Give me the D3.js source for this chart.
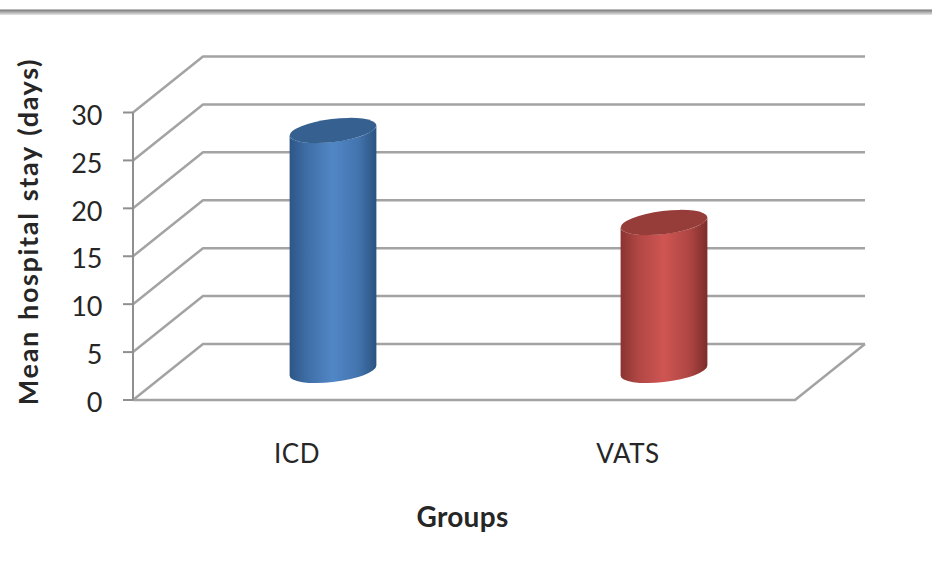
<!DOCTYPE html>
<html>
<head>
<meta charset="utf-8">
<script src="https://cdn.jsdelivr.net/npm/d3@7"></script>
<style>
  html, body { margin: 0; padding: 0; background: #fff; }
  svg { display: block; }
  text { font-family: Lato, "Open Sans", sans-serif; fill: #262626; }
</style>
</head>
<body>
<svg id="chart" width="932" height="576"></svg>
<script>
const categories = ["ICD", "VATS"];
const values = [25.2, 15.6];
const yTicks = [0, 5, 10, 15, 20, 25, 30];
const yTitle = "Mean hospital stay (days)";
const xTitle = "Groups";

const svg = d3.select("#chart");
const defs = svg.append("defs");

// Plot frame: front plane, with the depth offset that gives the back wall
const frontLeft = 133, frontRight = 795, frontBase = 400, frontTop = 112.5;
const depthX = 70, depthY = -56;

const y = d3.scaleLinear().domain([0, 30]).range([frontBase, frontTop]);
const x = d3.scaleBand().domain(categories).range([frontLeft, frontRight]);

// Header rule fading downwards
const rule = defs.append("linearGradient").attr("id", "rule")
  .attr("x1", 0).attr("y1", 0).attr("x2", 0).attr("y2", 1);
rule.append("stop").attr("offset", 0).attr("stop-color", "#757575");
rule.append("stop").attr("offset", 1).attr("stop-color", "#e6e6e6");
svg.append("rect").attr("x", 0).attr("y", 9.5).attr("width", 932).attr("height", 5.5)
  .attr("fill", "url(#rule)");

// Walls and floor
const gridColor = "#a3a3a3";
const grid = svg.append("g").attr("fill", "none").attr("stroke", gridColor)
  .attr("stroke-width", 2.5).attr("stroke-linejoin", "round");

grid.selectAll("path.wall").data(yTicks).join("path")
  .attr("class", "wall")
  .attr("d", t => {
    const p = d3.path();
    p.moveTo(frontLeft, y(t));
    p.lineTo(frontLeft + depthX, y(t) + depthY);
    p.lineTo(frontRight + depthX, y(t) + depthY);
    return p.toString();
  });

const floor = d3.path();
floor.moveTo(frontLeft, y(0));
floor.lineTo(frontRight, y(0));
floor.lineTo(frontRight + depthX, y(0) + depthY);
grid.append("path").attr("d", floor.toString());

// Value axis with outward ticks
const axis = svg.append("g").attr("fill", "none").attr("stroke", "#8f8f8f").attr("stroke-width", 2);
axis.append("line").attr("x1", frontLeft).attr("x2", frontLeft).attr("y1", y(30)).attr("y2", y(0));
axis.selectAll("line.tick").data(yTicks).join("line")
  .attr("class", "tick")
  .attr("x1", frontLeft - 10).attr("x2", frontLeft)
  .attr("y1", d => y(d)).attr("y2", d => y(d));

svg.append("g").selectAll("text").data(yTicks).join("text")
  .attr("x", 102.5).attr("y", d => y(d) + 2.5).attr("dy", "0.36em")
  .attr("text-anchor", "end").attr("font-size", 27)
  .text(d => d);

// Cylinders stand at mid depth, tilted by the chart's perspective
const capA = 43.7, capB = 11.5, tilt = 7.1 * Math.PI / 180;
const sideX = Math.sqrt(capA * capA * Math.cos(tilt) ** 2 + capB * capB * Math.sin(tilt) ** 2);
const sideY = (capA * capA - capB * capB) * Math.sin(tilt) * Math.cos(tilt) / sideX;
const tiltDeg = -7.1;
const midDepthX = depthX / 2, midDepthY = depthY / 2;

const palettes = [
  { id: "bodyBlue", top: "#35608f", stops: ["#2d5686", "#3f6ea6", "#5187c6", "#4273ad", "#2b5380"] },
  { id: "bodyRed", top: "#963c39", stops: ["#8a3331", "#b04744", "#cf5552", "#ad4542", "#7c2d2b"] }
];
palettes.forEach(p => {
  const g = defs.append("linearGradient").attr("id", p.id)
    .attr("x1", 0).attr("y1", 0).attr("x2", 1).attr("y2", 0);
  [0, 0.2, 0.5, 0.8, 1].forEach((o, i) =>
    g.append("stop").attr("offset", o).attr("stop-color", p.stops[i]));
});

const bars = svg.append("g").selectAll("g").data(categories).join("g");
bars.each(function (cat, i) {
  const g = d3.select(this);
  const cx = x(cat) + x.bandwidth() / 2 + midDepthX - 0.5;
  const yBase = y(0) + midDepthY - 1.5;
  const yTop = y(values[i]) + midDepthY;
  const lx = cx - sideX, rx = cx + sideX;
  const arc = `A${capA},${capB} ${tiltDeg} 0 `;
  g.append("path")
    .attr("fill", `url(#${palettes[i].id})`)
    .attr("d", `M${lx},${yTop + sideY} L${lx},${yBase + sideY} ${arc}0 ${rx},${yBase - sideY} L${rx},${yTop - sideY} ${arc}1 ${lx},${yTop + sideY} Z`);
  g.append("ellipse")
    .attr("cx", 0).attr("cy", 0).attr("rx", capA).attr("ry", capB)
    .attr("transform", `translate(${cx},${yTop}) rotate(${tiltDeg})`)
    .attr("fill", palettes[i].top);
});

// Category labels and axis titles
svg.append("g").selectAll("text").data(categories).join("text")
  .attr("x", d => x(d) + x.bandwidth() / 2 - 1.5)
  .attr("y", 463).attr("text-anchor", "middle").attr("font-size", 26)
  .attr("letter-spacing", 0.5)
  .text(d => d);

svg.append("text").attr("x", 462.5).attr("y", 527).attr("text-anchor", "middle")
  .attr("font-size", 28).attr("font-weight", 700).attr("letter-spacing", 0.3).text(xTitle);

svg.append("text").attr("transform", "translate(38,231.5) rotate(-90)")
  .attr("text-anchor", "middle").attr("font-size", 27).attr("font-weight", 700)
  .attr("letter-spacing", 1.65).attr("word-spacing", 2).text(yTitle);
</script>
</body>
</html>
